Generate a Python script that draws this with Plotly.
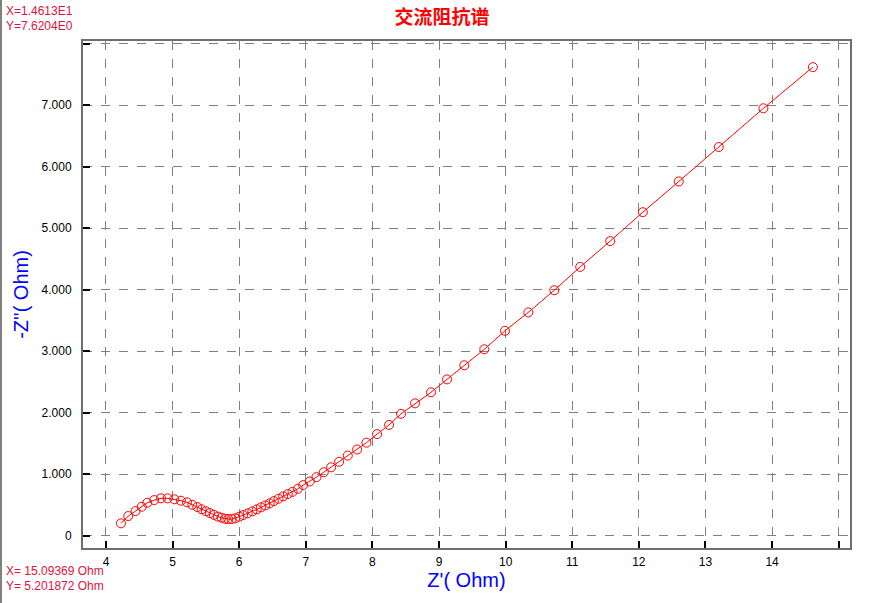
import plotly.graph_objects as go

# Impedance data (Z' real part, -Z'' imaginary part), Ohm
z_real = [4.225, 4.335, 4.444, 4.536, 4.62, 4.725, 4.826, 4.926, 5.026, 5.126,
          5.216, 5.296, 5.371, 5.436, 5.50, 5.56, 5.62, 5.68, 5.735, 5.787,
          5.836, 5.887, 5.94, 6.0, 6.06, 6.128, 6.197, 6.263, 6.327, 6.392,
          6.458, 6.52, 6.59, 6.66, 6.73, 6.80, 6.88, 6.96, 7.06, 7.16,
          7.27, 7.38, 7.50, 7.63, 7.77, 7.91, 8.07, 8.25, 8.43, 8.64,
          8.88, 9.12, 9.38, 9.68, 9.99, 10.34, 10.73, 11.12, 11.57, 12.06,
          12.60, 13.20, 13.87, 14.613]
z_imag = [0.198, 0.317, 0.398, 0.468, 0.533, 0.577, 0.605, 0.605, 0.589, 0.566,
          0.54, 0.50, 0.463, 0.426, 0.395, 0.365, 0.336, 0.308, 0.29, 0.273,
          0.268, 0.268, 0.28, 0.306, 0.333, 0.36, 0.393, 0.426, 0.458, 0.49,
          0.523, 0.56, 0.598, 0.637, 0.675, 0.71, 0.76, 0.82, 0.88, 0.95,
          1.03, 1.11, 1.20, 1.30, 1.40, 1.51, 1.65, 1.80, 1.98, 2.15,
          2.33, 2.54, 2.77, 3.03, 3.33, 3.63, 3.99, 4.37, 4.79, 5.26,
          5.76, 6.32, 6.95, 7.6204]

x_tickvals = [4, 5, 6, 7, 8, 9, 10, 11, 12, 13, 14, 15]
x_ticktext = ["4", "5", "6", "7", "8", "9", "10", "11", "12", "13", "14", ""]
y_tickvals = [0, 1, 2, 3, 4, 5, 6, 7, 8]
y_ticktext = ["0", "1.000", "2.000", "3.000", "4.000", "5.000", "6.000", "7.000", ""]

title_text = "交流阻抗谱"
x_title = "Z'( Ohm)"
y_title = "-Z''( Ohm)"
cursor_top = ["X=1.4613E1", "Y=7.6204E0"]
cursor_bottom = ["X= 15.09369 Ohm", "Y= 5.201872 Ohm"]

W, H = 876, 603
ml, mr, mt, mb = 83, 26, 41, 55
pw, ph = W - ml - mr, H - mt - mb

fig = go.Figure()
fig.add_trace(go.Scatter(
    x=z_real, y=z_imag, mode="lines+markers",
    line=dict(color="#ff0000", width=1),
    marker=dict(symbol="circle-open", size=9, color="#ff0000", line=dict(width=1, color="#ff0000")),
    showlegend=False, hoverinfo="x+y",
))

axis_common = dict(
    showline=True, linecolor="#6e6e6e", linewidth=2, mirror=True,
    showgrid=True, gridcolor="#808080", griddash="dash", gridwidth=1,
    ticks="inside", ticklen=7, tickcolor="#000000", tickwidth=1.5,
    zeroline=False, automargin=False,
    tickfont=dict(family="Liberation Sans, Arial", size=12, color="#000000"),
)

fig.update_layout(
    width=W, height=H, autosize=False,
    margin=dict(l=ml, r=mr, t=mt, b=mb),
    paper_bgcolor="white", plot_bgcolor="white",
    title=dict(text=title_text, x=442 / W, xref="container", xanchor="center",
               y=1 - 17 / H, yref="container", yanchor="middle", automargin=False,
               font=dict(family="Noto Sans CJK SC", size=19, color="#ff0000", weight="bold")),
    xaxis=dict(range=[3.655, 15.17], tickvals=x_tickvals, ticktext=x_ticktext,
               ticklabelstandoff=2,
               title=dict(text=x_title, standoff=1,
                          font=dict(family="Liberation Sans, Arial", size=20, color="#0000ff")),
               **axis_common),
    yaxis=dict(range=[-0.203, 8.045], tickvals=y_tickvals, ticktext=y_ticktext,
               ticklabelstandoff=7,
               title=dict(text=y_title, standoff=8,
                          font=dict(family="Liberation Sans, Arial", size=20, color="#0000ff")),
               **axis_common),
)

cursor_font = dict(family="Liberation Sans, Arial", size=12, color="#dc143c")
for i, t in enumerate(cursor_top):
    fig.add_annotation(text=t, xref="paper", yref="paper",
                       x=(4 - ml) / pw, y=1 + (mt - (11 + 15 * i)) / ph,
                       xanchor="left", yanchor="middle", showarrow=False, font=cursor_font)
for i, t in enumerate(cursor_bottom):
    fig.add_annotation(text=t, xref="paper", yref="paper",
                       x=(4 - ml) / pw, y=-((571 + 15 * i) - (mt + ph)) / ph,
                       xanchor="left", yanchor="middle", showarrow=False, font=cursor_font)

# window frame line at the far left
fig.add_shape(type="line", xref="paper", yref="paper",
              x0=(1 - ml) / pw, x1=(1 - ml) / pw, y0=-mb / ph, y1=1 + mt / ph,
              line=dict(color="#808080", width=2))

fig.write_html("out.html", config={"displayModeBar": False},
               post_script="document.body.style.margin='0';document.body.style.overflow='hidden';")
